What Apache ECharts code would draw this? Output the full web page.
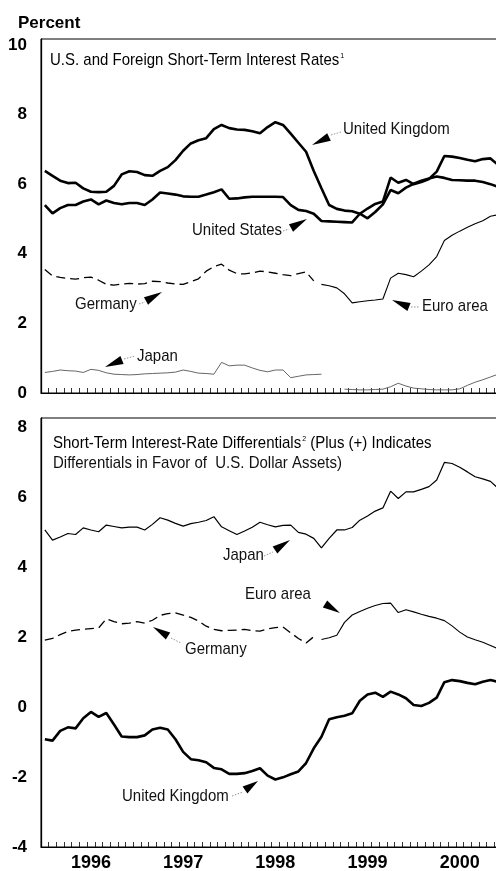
<!DOCTYPE html>
<html>
<head>
<meta charset="utf-8">
<script src="https://cdn.jsdelivr.net/npm/echarts@6/dist/echarts.min.js"></script>
<style>
  html, body { margin: 0; padding: 0; background: #fff; }
  #chart { width: 496px; height: 871px; }
</style>
</head>
<body>
<div id="chart"></div>
<script>
// ---- Data (monthly, Jan 1996 - Dec 2000) ----
const years = ['1996', '1997', '1998', '1999', '2000'];
const monthNames = ['01','02','03','04','05','06','07','08','09','10','11','12'];
const months = [];
years.forEach(y => monthNames.forEach(m => months.push(y + '-' + m)));

const yTicksTop = [0, 2, 4, 6, 8, 10];
const yTicksBottom = [-4, -2, 0, 2, 4, 6, 8];

// Top panel: short-term interest rates (percent)
const ukRate = [6.38,6.24,6.10,6.03,6.04,5.88,5.78,5.77,5.78,5.95,6.28,6.37,
                6.35,6.26,6.24,6.38,6.49,6.69,6.96,7.17,7.26,7.32,7.58,7.70,
                7.61,7.57,7.56,7.52,7.46,7.64,7.78,7.70,7.45,7.19,6.93,6.38,
                5.88,5.40,5.29,5.24,5.22,5.15,5.02,5.20,5.42,5.83,5.74,5.90,
                6.01,6.10,6.16,6.22,6.18,6.12,6.11,6.10,6.10,6.06,6.00,5.92];
const usRate = [5.40,5.16,5.31,5.40,5.40,5.50,5.56,5.42,5.53,5.46,5.42,5.46,
                5.46,5.40,5.56,5.76,5.73,5.70,5.65,5.64,5.64,5.70,5.77,5.85,
                5.58,5.59,5.62,5.64,5.64,5.64,5.64,5.63,5.40,5.26,5.23,5.15,
                4.94,4.93,4.92,4.91,4.90,5.15,5.30,5.43,5.50,6.19,6.04,6.12,
                6.00,6.06,6.15,6.36,6.81,6.79,6.75,6.70,6.66,6.72,6.74,6.55];
const germanyRate = [3.55,3.36,3.32,3.29,3.27,3.31,3.33,3.24,3.12,3.10,3.13,3.15,
                     3.13,3.14,3.21,3.20,3.16,3.13,3.12,3.20,3.28,3.50,3.63,3.70,
                     3.53,3.43,3.42,3.45,3.50,3.48,3.44,3.40,3.37,3.43,3.48,3.22];
const euroRate = [3.12,3.08,3.02,2.85,2.59,2.62,2.65,2.67,2.70,3.30,3.44,3.40,
                  3.34,3.50,3.68,3.92,4.38,4.53,4.65,4.76,4.86,4.95,5.08,5.12];
const japanRate = [0.59,0.62,0.66,0.64,0.63,0.59,0.68,0.65,0.58,0.54,0.53,0.52,
                   0.53,0.55,0.56,0.57,0.58,0.60,0.66,0.62,0.57,0.56,0.54,0.88,
                   0.78,0.80,0.80,0.72,0.65,0.61,0.66,0.66,0.44,0.48,0.52,0.53,
                   0.54,null,null,0.11,0.10,0.09,0.09,0.10,0.11,0.18,0.28,0.20,
                   0.14,0.12,0.10,0.09,0.09,0.09,0.12,0.22,0.31,0.38,0.46,0.54];

// Bottom panel: differentials (percentage points)
const japanDiff = [5.06,4.77,4.86,4.96,4.93,5.12,5.06,5.01,5.20,5.16,5.12,5.14,
                   5.14,5.06,5.22,5.41,5.34,5.25,5.17,5.24,5.28,5.33,5.44,5.15,
                   5.04,4.93,5.03,5.14,5.28,5.21,5.15,5.19,5.20,4.99,4.94,4.82,
                   4.55,4.82,5.06,5.06,5.13,5.34,5.46,5.60,5.69,6.17,5.96,6.15,
                   6.15,6.22,6.30,6.49,6.99,6.96,6.85,6.72,6.58,6.52,6.45,6.25];
const germanyDiff = [1.91,1.96,2.07,2.16,2.20,2.22,2.24,2.26,2.52,2.44,2.38,2.40,
                     2.44,2.40,2.48,2.62,2.67,2.69,2.63,2.56,2.46,2.31,2.22,2.18,
                     2.19,2.20,2.22,2.18,2.17,2.23,2.27,2.29,2.12,1.96,1.83,2.01];
const euroDiff = [1.93,1.98,2.05,2.42,2.63,2.73,2.82,2.90,2.96,2.97,2.70,2.78,
                  2.72,2.65,2.59,2.54,2.47,2.32,2.14,2.00,1.92,1.85,1.76,1.66];
const ukDiff = [-0.92,-0.96,-0.68,-0.58,-0.61,-0.32,-0.14,-0.28,-0.17,-0.50,-0.84,-0.86,
                -0.86,-0.81,-0.64,-0.59,-0.64,-0.92,-1.28,-1.49,-1.52,-1.58,-1.74,-1.78,
                -1.91,-1.91,-1.89,-1.83,-1.75,-1.96,-2.07,-2.01,-1.92,-1.84,-1.60,-1.18,
                -0.85,-0.35,-0.29,-0.25,-0.18,0.18,0.36,0.41,0.29,0.44,0.36,0.25,
                0.06,0.03,0.12,0.27,0.71,0.77,0.74,0.69,0.65,0.72,0.77,0.72];

// ---- helpers ----
const euroStart = months.length - euroRate.length;
function padFront(arr, n) { return new Array(n).fill(null).concat(arr); }

const FONT = "'Liberation Sans', Arial, Helvetica, sans-serif";

function arrow(tx, ty, bx, by) {
  const dx = tx - bx, dy = ty - by, L = Math.hypot(dx, dy);
  const nx = -dy / L * 4.2, ny = dx / L * 4.2;
  return { type: 'polygon', silent: true,
    shape: { points: [[tx, ty], [bx + nx, by + ny], [bx - nx, by - ny]] },
    style: { fill: '#000' } };
}
function leader(x1, y1, x2, y2) {
  return { type: 'line', silent: true, shape: { x1, y1, x2, y2 },
    style: { stroke: '#777', lineWidth: 0.8, lineDash: [1.5, 1.5] } };
}
function label(text, x, y) {
  return { type: 'text', silent: true, x, y, scaleY: 1.08,
    style: { text, fontFamily: FONT, fontSize: 15, fill: '#111',
             textVerticalAlign: 'middle', textAlign: 'left' } };
}

const chart = echarts.init(document.getElementById('chart'), null, { renderer: 'canvas' });

function yLabelFmt(ticks) {
  return v => (ticks.some(t => Math.abs(t - v) < 1e-6) ? String(v) : '');
}

const lineBase = { type: 'line', symbol: 'none', animation: false, silent: true };

const xAxisBase = {
  type: 'category', data: months, boundaryGap: true,
  axisLine: { onZero: false, lineStyle: { color: '#000', width: 1.2 } },
  axisTick: { show: true, inside: true, length: 5, interval: 0, lineStyle: { color: '#000', width: 0.8 } },
  splitLine: { show: false }
};

const option = {
  backgroundColor: '#fff',
  animation: false,
  title: {
    text: 'Percent', left: 13, top: 10,
    textStyle: { fontFamily: FONT, fontSize: 17, fontWeight: 'bold', color: '#000' }
  },
  grid: [
    { left: 41, width: 461, top: 39, height: 354, outerBoundsMode: 'none', containLabel: false,
      show: true, borderColor: '#000', borderWidth: 1 },
    { left: 41, width: 461, top: 418, height: 429, outerBoundsMode: 'none', containLabel: false,
      show: true, borderColor: '#000', borderWidth: 1 }
  ],
  xAxis: [
    Object.assign({}, xAxisBase, { gridIndex: 0, axisLabel: { show: false } }),
    Object.assign({}, xAxisBase, { gridIndex: 1,
      axisLabel: { interval: (i) => i % 12 === 6, formatter: v => v.slice(0, 4),
                   fontFamily: FONT, fontSize: 18, fontWeight: 'bold', color: '#000', margin: 7 } })
  ],
  yAxis: [
    { type: 'value', gridIndex: 0, min: 0, max: 10.17, interval: 2,
      axisLine: { show: true, onZero: false, lineStyle: { color: '#000', width: 1.3 } },
      axisTick: { show: false }, splitLine: { show: false },
      axisLabel: { formatter: yLabelFmt(yTicksTop), fontFamily: FONT, fontSize: 17,
                   fontWeight: 'bold', color: '#000', margin: 14 } },
    { type: 'value', gridIndex: 1, min: -4, max: 8.26, interval: 2,
      axisLine: { show: true, onZero: false, lineStyle: { color: '#000', width: 1.3 } },
      axisTick: { show: false }, splitLine: { show: false },
      axisLabel: { formatter: yLabelFmt(yTicksBottom), fontFamily: FONT, fontSize: 17,
                   fontWeight: 'bold', color: '#000', margin: 14 } }
  ],
  series: [
    Object.assign({}, lineBase, { name: 'United Kingdom', xAxisIndex: 0, yAxisIndex: 0, data: ukRate,
      lineStyle: { color: '#000', width: 2.6 } }),
    Object.assign({}, lineBase, { name: 'United States', xAxisIndex: 0, yAxisIndex: 0, data: usRate,
      lineStyle: { color: '#000', width: 2.6 } }),
    Object.assign({}, lineBase, { name: 'Germany', xAxisIndex: 0, yAxisIndex: 0, data: germanyRate,
      lineStyle: { color: '#000', width: 1.3, type: [9, 5] } }),
    Object.assign({}, lineBase, { name: 'Euro area', xAxisIndex: 0, yAxisIndex: 0, data: padFront(euroRate, euroStart),
      lineStyle: { color: '#000', width: 1.1 } }),
    Object.assign({}, lineBase, { name: 'Japan', xAxisIndex: 0, yAxisIndex: 0, data: japanRate,
      lineStyle: { color: '#555', width: 0.9 } }),

    Object.assign({}, lineBase, { name: 'Japan diff', xAxisIndex: 1, yAxisIndex: 1, data: japanDiff,
      lineStyle: { color: '#000', width: 1.2 } }),
    Object.assign({}, lineBase, { name: 'Germany diff', xAxisIndex: 1, yAxisIndex: 1, data: germanyDiff,
      lineStyle: { color: '#000', width: 1.3, type: [9, 5] } }),
    Object.assign({}, lineBase, { name: 'Euro area diff', xAxisIndex: 1, yAxisIndex: 1, data: padFront(euroDiff, euroStart),
      lineStyle: { color: '#000', width: 1.1 } }),
    Object.assign({}, lineBase, { name: 'United Kingdom diff', xAxisIndex: 1, yAxisIndex: 1, data: ukDiff,
      lineStyle: { color: '#000', width: 2.6 } })
  ],
  graphic: [
    { type: 'text', silent: true, x: 50, y: 61, scaleY: 1.08,
      style: { text: '{a|U.S. and Foreign Short-Term Interest Rates}{s|1}',
               textVerticalAlign: 'middle',
               rich: { a: { fontFamily: FONT, fontSize: 15, color: '#111' },
                       s: { fontFamily: FONT, fontSize: 7, color: '#111', verticalAlign: 'top', padding: [0, 0, 9, 1] } } } },
    { type: 'text', silent: true, x: 53, y: 444, scaleY: 1.08,
      style: { text: '{a|Short-Term Interest-Rate Differentials}{s|2}{a| (Plus (+) Indicates}',
               textVerticalAlign: 'middle',
               rich: { a: { fontFamily: FONT, fontSize: 15, color: '#111' },
                       s: { fontFamily: FONT, fontSize: 7, color: '#111', verticalAlign: 'top', padding: [0, 0, 9, 1] } } } },
    label('Differentials in Favor of  U.S. Dollar Assets)', 53, 464),

    label('United Kingdom', 343, 130), arrow(312, 145, 329, 137), leader(331, 135, 341, 132),
    label('United States', 192, 231), arrow(307, 219, 291, 228), leader(283, 231, 289, 229),
    label('Germany', 75, 305), arrow(162, 292, 146, 301), leader(139, 304, 145, 302),
    label('Euro area', 422, 307), arrow(392, 300, 409, 307), leader(411, 307, 420, 307),
    label('Japan', 137, 357), arrow(105, 367, 122, 360), leader(124, 359, 135, 356),

    label('Japan', 223, 556), arrow(290, 540, 275, 550), leader(264, 556, 273, 552),
    label('Euro area', 245, 595), arrow(340, 613, 325, 604),
    label('Germany', 185, 650), arrow(153, 627, 168, 636), leader(171, 638, 181, 643),
    label('United Kingdom', 122, 797), arrow(258, 781, 245, 790), leader(232, 796, 243, 792)
  ]
};

chart.setOption(option);
</script>
</body>
</html>
